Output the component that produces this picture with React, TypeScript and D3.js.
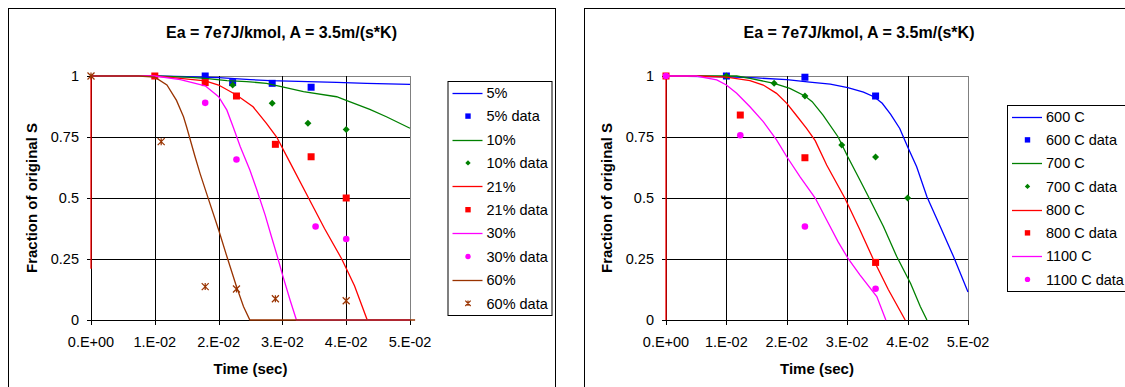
import React, { useEffect, useRef } from "react";
import * as d3 from "d3";

type Pt = [number, number];

// axis ticks
const xTicks = [0, 0.01, 0.02, 0.03, 0.04, 0.05];
const xTickLabels = ["0.E+00", "1.E-02", "2.E-02", "3.E-02", "4.E-02", "5.E-02"];
const yTicks = [0, 0.25, 0.5, 0.75, 1];
const yTickLabels = ["0", "0.25", "0.5", "0.75", "1"];

const chartTitle = "Ea = 7e7J/kmol, A = 3.5m/(s*K)";
const xTitle = "Time (sec)";
const yTitle = "Fraction of original S";

// left chart: O2 concentration, model [time, fraction] + measured points
const o2Names = ["5%", "10%", "21%", "30%", "60%"];
const o2_5Model: Pt[] = [[0, 1], [0.01, 1], [0.015, 0.997], [0.02, 0.993], [0.025, 0.985], [0.028, 0.981], [0.0385, 0.974], [0.0432, 0.97], [0.05, 0.966]];
const o2_5Data: Pt[] = [[0.0179, 1.0], [0.0222, 0.973], [0.0284, 0.97], [0.0345, 0.954]];
const o2_10Model: Pt[] = [[0, 1], [0.01, 1], [0.015, 0.995], [0.0179, 0.99], [0.0213, 0.981], [0.0244, 0.977], [0.0275, 0.97], [0.03, 0.955], [0.0333, 0.936], [0.0385, 0.915], [0.04, 0.9], [0.0437, 0.863], [0.0463, 0.833], [0.05, 0.786]];
const o2_10Data: Pt[] = [[0.0222, 0.963], [0.0284, 0.888], [0.034, 0.806], [0.04, 0.781]];
const o2_21Model: Pt[] = [[0, 0.21], [0, 1], [0.01, 1], [0.014, 0.99], [0.0179, 0.98], [0.02, 0.963], [0.0228, 0.922], [0.0254, 0.874], [0.0275, 0.806], [0.0291, 0.75], [0.0311, 0.65], [0.0341, 0.5], [0.0366, 0.375], [0.0393, 0.25], [0.0413, 0.14], [0.0433, 0], [0.05, 0]];
const o2_21Data: Pt[] = [[0.01, 1], [0.0179, 0.973], [0.0228, 0.918], [0.0289, 0.72], [0.0345, 0.669], [0.04, 0.5]];
const o2_30Model: Pt[] = [[0, 1], [0.01, 1], [0.014, 0.985], [0.0179, 0.96], [0.02, 0.915], [0.0213, 0.86], [0.0223, 0.79], [0.0234, 0.71], [0.0249, 0.615], [0.026, 0.533], [0.0273, 0.43], [0.0283, 0.34], [0.0291, 0.27], [0.0301, 0.178], [0.0312, 0.082], [0.0322, 0], [0.05, 0]];
const o2_30Data: Pt[] = [[0.0179, 0.89], [0.0228, 0.658], [0.0352, 0.383], [0.04, 0.332]];
const o2_60Model: Pt[] = [[0, 1], [0.0075, 1], [0.01, 0.995], [0.0119, 0.963], [0.0134, 0.9], [0.0145, 0.833], [0.015, 0.79], [0.0163, 0.67], [0.0171, 0.6], [0.0181, 0.52], [0.02, 0.37], [0.0213, 0.26], [0.0228, 0.137], [0.0239, 0.055], [0.0249, 0], [0.0508, 0]];
const o2_60Data: Pt[] = [[0, 1], [0.011, 0.731], [0.0179, 0.137], [0.0228, 0.127], [0.0289, 0.087], [0.04, 0.079]];

// right chart: temperature
const tempNames = ["600 C", "700 C", "800 C", "1100 C"];
const t600Model: Pt[] = [[0, 1], [0.01, 0.997], [0.015, 0.992], [0.02, 0.985], [0.0238, 0.975], [0.0272, 0.967], [0.0301, 0.952], [0.0327, 0.934], [0.0345, 0.914], [0.0358, 0.888], [0.0372, 0.843], [0.0387, 0.785], [0.04, 0.71], [0.0415, 0.628], [0.0432, 0.505], [0.0454, 0.383], [0.0476, 0.26], [0.05, 0.115]];
const t600Data: Pt[] = [[0.01, 1], [0.023, 0.995], [0.0347, 0.918]];
const t700Model: Pt[] = [[0, 1], [0.0117, 1], [0.0139, 0.99], [0.0179, 0.97], [0.0205, 0.949], [0.023, 0.918], [0.0242, 0.895], [0.026, 0.84], [0.0285, 0.75], [0.0301, 0.669], [0.0321, 0.574], [0.0338, 0.492], [0.036, 0.383], [0.0382, 0.26], [0.0405, 0.15], [0.0421, 0.055], [0.0432, 0]];
const t700Data: Pt[] = [[0.01, 1], [0.0179, 0.97], [0.023, 0.918], [0.0291, 0.717], [0.0347, 0.668], [0.04, 0.5]];
const t800Model: Pt[] = [[0, 0], [0, 1], [0.005, 1], [0.01, 0.995], [0.0139, 0.981], [0.0161, 0.963], [0.0183, 0.929], [0.02, 0.888], [0.0216, 0.838], [0.0233, 0.784], [0.0247, 0.735], [0.0266, 0.635], [0.0296, 0.5], [0.032, 0.375], [0.0343, 0.25], [0.0368, 0.125], [0.0396, 0]];
const t800Data: Pt[] = [[0, 1], [0.0123, 0.84], [0.023, 0.665], [0.0347, 0.236]];
const t1100Model: Pt[] = [[0, 1], [0.005, 1], [0.0084, 0.984], [0.01, 0.963], [0.0117, 0.929], [0.0139, 0.874], [0.0161, 0.813], [0.0183, 0.738], [0.02, 0.669], [0.0222, 0.587], [0.0247, 0.5], [0.0266, 0.41], [0.0285, 0.32], [0.0302, 0.25], [0.0321, 0.185], [0.0349, 0.096], [0.0364, 0]];
const t1100Data: Pt[] = [[0, 1], [0.0123, 0.757], [0.023, 0.383], [0.0347, 0.128]];

const FONT = "'Liberation Sans', Arial, sans-serif";

type Shape = "square" | "diamond" | "circle" | "star";
type Series = { name: string; color: string; shape: Shape; model: Pt[]; data: Pt[] };

const leftSeries: Series[] = [
  { name: o2Names[0], color: "#0000ff", shape: "square", model: o2_5Model, data: o2_5Data },
  { name: o2Names[1], color: "#008000", shape: "diamond", model: o2_10Model, data: o2_10Data },
  { name: o2Names[2], color: "#ff0000", shape: "square", model: o2_21Model, data: o2_21Data },
  { name: o2Names[3], color: "#ff00ff", shape: "circle", model: o2_30Model, data: o2_30Data },
  { name: o2Names[4], color: "#993300", shape: "star", model: o2_60Model, data: o2_60Data },
];
const rightSeries: Series[] = [
  { name: tempNames[0], color: "#0000ff", shape: "square", model: t600Model, data: t600Data },
  { name: tempNames[1], color: "#008000", shape: "diamond", model: t700Model, data: t700Data },
  { name: tempNames[2], color: "#ff0000", shape: "square", model: t800Model, data: t800Data },
  { name: tempNames[3], color: "#ff00ff", shape: "circle", model: t1100Model, data: t1100Data },
];

const charts = [
  {
    series: leftSeries,
    box: { x: 8, y: 8, w: 547, h: 400 },
    plot: { l: 91, r: 410, t: 76, b: 320 },
    legend: { x: 447.5, y: 81, w: 104, h: 234 },
  },
  {
    series: rightSeries,
    box: { x: 584, y: 8, w: 550, h: 400 },
    plot: { l: 666, r: 968, t: 76, b: 320 },
    legend: { x: 1007, y: 105, w: 140, h: 186 },
  },
];

const drawMarker = (g: any, shape: Shape, cx: number, cy: number, color: string, s: number) => {
  if (shape === "square") {
    g.append("rect").attr("x", cx - s).attr("y", cy - s).attr("width", 2 * s).attr("height", 2 * s).attr("fill", color);
  } else if (shape === "diamond") {
    g.append("path").attr("d", `M${cx},${cy - s}L${cx + s},${cy}L${cx},${cy + s}L${cx - s},${cy}Z`).attr("fill", color);
  } else if (shape === "circle") {
    g.append("circle").attr("cx", cx).attr("cy", cy).attr("r", s).attr("fill", color);
  } else {
    g.append("path")
      .attr("d", `M${cx - s},${cy - s}L${cx + s},${cy + s}M${cx - s},${cy + s}L${cx + s},${cy - s}M${cx},${cy - s}L${cx},${cy + s}`)
      .attr("stroke", color).attr("stroke-width", 1.2).attr("fill", "none");
  }
};

const crisp = (v: number) => Math.round(v) + 0.5;

const drawChart = (root: any, c: any) => {
  const g = root.append("g").attr("font-family", FONT);
  const { plot, box, legend } = c;

  g.append("rect").attr("x", box.x + 0.5).attr("y", box.y + 0.5).attr("width", box.w).attr("height", box.h)
    .attr("fill", "#fff").attr("stroke", "#000");

  g.append("text").attr("x", box.x + box.w / 2).attr("y", 38).attr("text-anchor", "middle")
    .attr("font-size", 16).attr("font-weight", "bold").text(chartTitle);

  const x = d3.scaleLinear().domain([0, 0.05]).range([plot.l, plot.r]);
  const y = d3.scaleLinear().domain([0, 1]).range([plot.b, plot.t]);

  // plot border (grey)
  g.append("rect").attr("x", crisp(plot.l)).attr("y", crisp(plot.t))
    .attr("width", Math.round(plot.r) - Math.round(plot.l)).attr("height", Math.round(plot.b) - Math.round(plot.t))
    .attr("fill", "none").attr("stroke", "#808080");

  // gridlines + ticks
  xTicks.forEach((t, i) => {
    const px = crisp(x(t));
    if (i > 0 && i < xTicks.length - 1) {
      g.append("line").attr("x1", px).attr("x2", px).attr("y1", plot.t).attr("y2", plot.b).attr("stroke", "#000");
    }
    g.append("line").attr("x1", px).attr("x2", px).attr("y1", plot.b).attr("y2", plot.b + 5).attr("stroke", "#000");
    g.append("text").attr("x", x(t)).attr("y", 347).attr("text-anchor", "middle").attr("font-size", 14.5).text(xTickLabels[i]);
  });
  yTicks.forEach((v, i) => {
    const py = crisp(y(v));
    if (i > 0 && i < yTicks.length - 1) {
      g.append("line").attr("x1", plot.l).attr("x2", plot.r).attr("y1", py).attr("y2", py).attr("stroke", "#000");
    }
    g.append("line").attr("x1", plot.l - 4).attr("x2", plot.l).attr("y1", py).attr("y2", py).attr("stroke", "#000");
    g.append("text").attr("x", plot.l - 12).attr("y", y(v)).attr("dy", "0.36em").attr("text-anchor", "end")
      .attr("font-size", 14.5).text(yTickLabels[i]);
  });

  // axes
  g.append("line").attr("x1", crisp(plot.l)).attr("x2", crisp(plot.l)).attr("y1", plot.t).attr("y2", plot.b + 1).attr("stroke", "#000");
  g.append("line").attr("x1", plot.l).attr("x2", plot.r + 1).attr("y1", crisp(plot.b)).attr("y2", crisp(plot.b)).attr("stroke", "#000");

  // axis titles
  g.append("text").attr("x", (plot.l + plot.r) / 2).attr("y", 374).attr("text-anchor", "middle")
    .attr("font-size", 15).attr("font-weight", "bold").text(xTitle);
  g.append("text").attr("transform", `translate(${plot.l - 54},${(plot.t + plot.b) / 2}) rotate(-90)`)
    .attr("text-anchor", "middle").attr("font-size", 15).attr("font-weight", "bold").text(yTitle);

  // series
  const line = d3.line<Pt>().x((d) => x(d[0])).y((d) => y(d[1]));
  c.series.forEach((s: Series) => {
    g.append("path").attr("d", line(s.model)).attr("fill", "none").attr("stroke", s.color).attr("stroke-width", 1.3);
    s.data.forEach((d) => drawMarker(g, s.shape, x(d[0]), y(d[1]), s.color, s.shape === "circle" ? 3.3 : 3.5));
  });

  // legend
  const lg = g.append("g");
  lg.append("rect").attr("x", legend.x + 0.5).attr("y", legend.y + 0.5).attr("width", legend.w).attr("height", legend.h)
    .attr("fill", "#fff").attr("stroke", "#000");
  const step = legend.h / (c.series.length * 2);
  c.series.forEach((s: Series, i: number) => {
    const y1 = legend.y + step * (2 * i + 0.5);
    const y2 = legend.y + step * (2 * i + 1.5);
    lg.append("line").attr("x1", legend.x + 5).attr("x2", legend.x + 35).attr("y1", crisp(y1)).attr("y2", crisp(y1))
      .attr("stroke", s.color).attr("stroke-width", 1.3);
    lg.append("text").attr("x", legend.x + 39).attr("y", y1).attr("dy", "0.36em").attr("font-size", 14.5).text(s.name);
    drawMarker(lg, s.shape, legend.x + 20.5, y2, s.color, 2.7);
    lg.append("text").attr("x", legend.x + 39).attr("y", y2).attr("dy", "0.36em").attr("font-size", 14.5).text(`${s.name} data`);
  });
};

const App = () => {
  const ref = useRef<SVGSVGElement>(null);

  useEffect(() => {
    const svg = d3.select(ref.current);
    svg.selectAll("*").remove();
    svg.append("rect").attr("width", 1125).attr("height", 387).attr("fill", "#fff");
    charts.forEach((c) => drawChart(svg, c));
  }, []);

  return (
    <svg ref={ref} width={1125} height={387} style={{ position: "absolute", left: 0, top: 0 }} />
  );
};

export default App;
